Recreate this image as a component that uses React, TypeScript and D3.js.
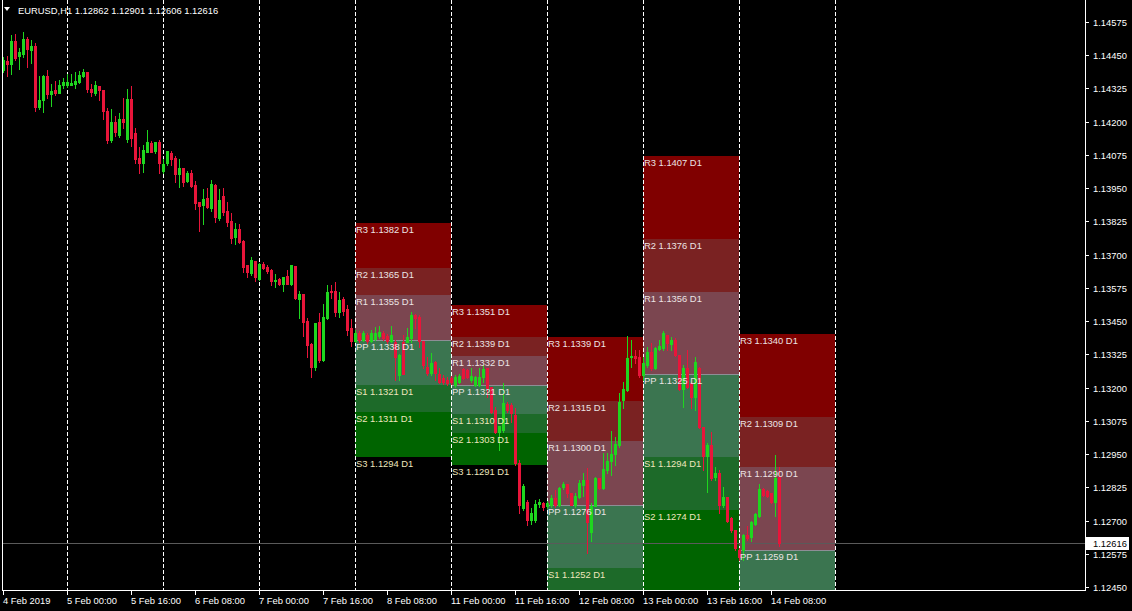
import React from "react";
import * as d3 from "d3";

const W = 1132;
const H = 611;

// OHLC hourly bars (index 0 = 4 Feb 2019 08:00)
const open = [
1.14394,1.14428,1.14417,1.14503,1.14447,1.14455,1.14511,1.14470,1.14485,1.14256,
1.14282,1.14371,1.14304,1.14319,1.14308,1.14338,1.14338,1.14338,1.14342,1.14349,
1.14371,1.14386,1.14323,1.14308,1.14334,1.14319,1.14240,1.14131,1.14198,1.14150,
1.14210,1.14135,1.14285,1.14158,1.14064,1.14045,1.14086,1.14120,1.14090,1.14124,
1.14015,1.14045,1.14083,1.14064,1.14003,1.14026,1.13977,1.14007,1.13962,1.13898,
1.13887,1.13913,1.13876,1.13962,1.13838,1.13921,1.13864,1.13827,1.13766,1.13796,
1.13751,1.13661,1.13631,1.13676,1.13608,1.13665,1.13654,1.13642,1.13601,1.13608,
1.13590,1.13620,1.13590,1.13657,1.13533,1.13552,1.13450,1.13364,1.13278,1.13447,
1.13304,1.13462,1.13563,1.13563,1.13484,1.13533,1.13495,1.13424,1.13375,1.13405,
1.13379,1.13398,1.13375,1.13383,1.13394,1.13405,1.13394,1.13375,1.13371,1.13247,
1.13371,1.13371,1.13386,1.13473,1.13466,1.13375,1.13278,1.13255,1.13296,1.13251,
1.13236,1.13229,1.13236,1.13210,1.13221,1.13270,1.13266,1.13229,1.13210,1.13210,
1.13240,1.13274,1.13202,1.13116,1.13033,1.13040,1.13138,1.13135,1.13097,1.12917,
1.12747,1.12770,1.12702,1.12702,1.12762,1.12766,1.12755,1.12758,1.12785,1.12758,
1.12826,1.12837,1.12803,1.12758,1.12788,1.12833,1.12852,1.12657,1.12755,1.12860,
1.12822,1.12890,1.12924,1.12950,1.12984,1.13153,1.13191,1.13315,1.13319,1.13315,
1.13247,1.13285,1.13334,1.13274,1.13345,1.13349,1.13398,1.13364,1.13379,1.13323,
1.13195,1.13274,1.13217,1.13165,1.13274,1.13052,1.12943,1.12984,1.12863,1.12879,
1.12758,1.12788,1.12709,1.12664,1.12589,1.12589,1.12645,1.12638,1.12687,1.12717,
1.12818,1.12811,1.12803,1.12770,1.12862,
];
const high = [
1.14444,1.14447,1.14526,1.14530,1.14477,1.14537,1.14519,1.14507,1.14496,1.14371,
1.14375,1.14394,1.14342,1.14353,1.14357,1.14364,1.14379,1.14379,1.14386,1.14390,
1.14398,1.14386,1.14342,1.14353,1.14334,1.14319,1.14251,1.14248,1.14221,1.14233,
1.14289,1.14323,1.14334,1.14176,1.14105,1.14113,1.14169,1.14128,1.14124,1.14131,
1.14060,1.14090,1.14090,1.14071,1.14060,1.14026,1.14015,1.14018,1.13977,1.13898,
1.13947,1.13951,1.13981,1.13966,1.13947,1.13951,1.13898,1.13857,1.13819,1.13815,
1.13755,1.13661,1.13691,1.13676,1.13668,1.13672,1.13661,1.13646,1.13627,1.13612,
1.13616,1.13642,1.13661,1.13657,1.13563,1.13552,1.13462,1.13368,1.13443,1.13480,
1.13514,1.13586,1.13586,1.13597,1.13559,1.13541,1.13510,1.13458,1.13417,1.13413,
1.13413,1.13405,1.13417,1.13428,1.13432,1.13413,1.13402,1.13432,1.13379,1.13326,
1.13398,1.13424,1.13484,1.13477,1.13473,1.13375,1.13315,1.13330,1.13300,1.13274,
1.13247,1.13240,1.13244,1.13247,1.13251,1.13274,1.13270,1.13274,1.13244,1.13274,
1.13285,1.13274,1.13202,1.13127,1.13055,1.13217,1.13146,1.13142,1.13123,1.12928,
1.12837,1.12777,1.12747,1.12777,1.12781,1.12770,1.12773,1.12796,1.12815,1.12826,
1.12845,1.12837,1.12803,1.12803,1.12852,1.12878,1.12897,1.12766,1.12863,1.12860,
1.12954,1.12954,1.13037,1.13014,1.13180,1.13221,1.13394,1.13379,1.13341,1.13341,
1.13315,1.13353,1.13368,1.13353,1.13379,1.13413,1.13398,1.13390,1.13386,1.13323,
1.13285,1.13341,1.13221,1.13315,1.13278,1.13052,1.12992,1.13033,1.12901,1.12890,
1.12826,1.12788,1.12713,1.12664,1.12596,1.12649,1.12679,1.12698,1.12728,1.12837,
1.12822,1.12815,1.12803,1.12946,1.12901,
];
const low = [
1.14386,1.14371,1.14379,1.14432,1.14398,1.14444,1.14406,1.14421,1.14240,1.14248,
1.14236,1.14289,1.14259,1.14300,1.14308,1.14327,1.14330,1.14338,1.14327,1.14345,
1.14368,1.14311,1.14296,1.14300,1.14282,1.14210,1.14120,1.14124,1.14146,1.14143,
1.14176,1.14124,1.14109,1.14045,1.14007,1.14011,1.14086,1.14086,1.14083,1.14007,
1.14007,1.14037,1.14037,1.13973,1.13954,1.13958,1.13973,1.13954,1.13872,1.13789,
1.13815,1.13876,1.13864,1.13823,1.13830,1.13849,1.13808,1.13744,1.13740,1.13744,
1.13635,1.13616,1.13623,1.13601,1.13605,1.13646,1.13631,1.13586,1.13578,1.13586,
1.13563,1.13590,1.13586,1.13533,1.13462,1.13394,1.13315,1.13240,1.13266,1.13296,
1.13300,1.13458,1.13537,1.13469,1.13466,1.13473,1.13398,1.13356,1.13371,1.13371,
1.13375,1.13368,1.13371,1.13379,1.13386,1.13379,1.13368,1.13371,1.13229,1.13229,
1.13251,1.13371,1.13371,1.13424,1.13353,1.13274,1.13247,1.13247,1.13229,1.13217,
1.13214,1.13210,1.13214,1.13202,1.13217,1.13232,1.13236,1.13221,1.13206,1.13206,
1.13221,1.13165,1.13104,1.13029,1.12965,1.13033,1.13108,1.13070,1.12909,1.12728,
1.12739,1.12683,1.12687,1.12694,1.12751,1.12739,1.12747,1.12751,1.12751,1.12755,
1.12818,1.12788,1.12758,1.12751,1.12785,1.12792,1.12578,1.12623,1.12755,1.12818,
1.12818,1.12879,1.12871,1.12909,1.12977,1.13123,1.13187,1.13278,1.13293,1.13240,
1.13229,1.13278,1.13266,1.13270,1.13341,1.13341,1.13341,1.13341,1.13319,1.13191,
1.13127,1.13199,1.13123,1.13116,1.13048,1.12890,1.12807,1.12852,1.12852,1.12728,
1.12751,1.12694,1.12657,1.12589,1.12551,1.12551,1.12627,1.12623,1.12683,1.12713,
1.12792,1.12788,1.12766,1.12717,1.12606,
];
const close = [
1.14432,1.14417,1.14503,1.14440,1.14462,1.14511,1.14473,1.14485,1.14256,1.14282,
1.14371,1.14304,1.14315,1.14308,1.14338,1.14349,1.14349,1.14345,1.14353,1.14375,
1.14386,1.14323,1.14311,1.14338,1.14319,1.14240,1.14131,1.14198,1.14161,1.14210,
1.14198,1.14285,1.14139,1.14060,1.14045,1.14094,1.14124,1.14086,1.14124,1.14045,
1.14041,1.14090,1.14060,1.14003,1.14026,1.13973,1.14007,1.13958,1.13895,1.13883,
1.13909,1.13880,1.13966,1.13842,1.13906,1.13861,1.13823,1.13763,1.13796,1.13747,
1.13654,1.13635,1.13680,1.13616,1.13665,1.13650,1.13638,1.13601,1.13605,1.13590,
1.13616,1.13590,1.13661,1.13537,1.13552,1.13447,1.13360,1.13278,1.13443,1.13304,
1.13466,1.13559,1.13559,1.13484,1.13529,1.13488,1.13417,1.13375,1.13405,1.13379,
1.13405,1.13375,1.13405,1.13405,1.13409,1.13386,1.13375,1.13398,1.13315,1.13323,
1.13251,1.13390,1.13473,1.13462,1.13375,1.13285,1.13255,1.13293,1.13255,1.13221,
1.13221,1.13217,1.13221,1.13240,1.13244,1.13236,1.13240,1.13244,1.13240,1.13240,
1.13270,1.13199,1.13108,1.13033,1.13055,1.13142,1.13116,1.13104,1.12917,1.12758,
1.12830,1.12702,1.12728,1.12762,1.12770,1.12751,1.12766,1.12785,1.12758,1.12822,
1.12837,1.12803,1.12758,1.12792,1.12841,1.12852,1.12694,1.12755,1.12860,1.12822,
1.12894,1.12924,1.12950,1.12988,1.13146,1.13195,1.13311,1.13319,1.13311,1.13247,
1.13293,1.13334,1.13274,1.13349,1.13356,1.13405,1.13368,1.13379,1.13323,1.13195,
1.13274,1.13202,1.13165,1.13296,1.13052,1.12943,1.12984,1.12860,1.12879,1.12758,
1.12788,1.12698,1.12664,1.12596,1.12563,1.12645,1.12634,1.12694,1.12724,1.12818,
1.12796,1.12792,1.12770,1.12860,1.12616,
];

// Time axis labels (bar index, text)
const timeLabelBars = [0, 16, 32, 48, 64, 80, 96, 112, 128, 144, 160, 176, 192];
const timeLabels = [
  "4 Feb 2019", "5 Feb 00:00", "5 Feb 16:00", "6 Feb 08:00", "7 Feb 00:00",
  "7 Feb 16:00", "8 Feb 08:00", "11 Feb 00:00", "11 Feb 16:00", "12 Feb 08:00",
  "13 Feb 00:00", "13 Feb 16:00", "14 Feb 08:00",
];
// Day separators (bar index of 00:00 each day)
const dayStartBars = [16, 40, 64, 88, 112, 136, 160, 184, 208];

// Price axis ticks
const priceTicks = [
  1.14575, 1.1445, 1.14325, 1.142, 1.14075, 1.1395, 1.13825, 1.137, 1.13575,
  1.1345, 1.13325, 1.132, 1.13075, 1.1295, 1.12825, 1.127, 1.12575, 1.1245,
];

// Daily pivot levels
const pivotStartBars = [88, 112, 136, 160, 184];
const pivotR3 = [1.1382, 1.1351, 1.1339, 1.1407, 1.134];
const pivotR2 = [1.1365, 1.1339, 1.1315, 1.1376, 1.1309];
const pivotR1 = [1.1355, 1.1332, 1.13, 1.1356, 1.129];
const pivotPP = [1.1338, 1.1321, 1.1276, 1.1325, 1.1259];
const pivotS1 = [1.1321, 1.131, 1.1252, 1.1294, 1.1228];
const pivotS2 = [1.1311, 1.1303, 1.1237, 1.1274, 1.1209];
const pivotS3 = [1.1294, 1.1291, 1.1213, 1.1243, 1.1178];

const symbolTitle = "EURUSD,H1";
const headerValues = ["1.12862", "1.12901", "1.12606", "1.12616"];
const lastPrice = 1.12616;

const FONT = "Tahoma, 'Liberation Sans', Arial, sans-serif";
const FS = 9.4;
const BULL = "#1fd61f";
const BEAR = "#e8153a";
const FG = "#ffffff";

const zoneColors = ["#800000", "#7a2222", "#7b4650", "#3b7550", "#1d6a29", "#006400"];
const rLabelColor = "#ece4e4";
const sLabelColor = "#efe6bd";

export default function App() {
  const left = 2, right = 1085, top = 0, bottom = 590;
  const x = d3.scaleLinear().domain([0, 1]).range([3.5, 7.5]);
  const y = d3.scaleLinear().domain([1.1245, 1.14575]).range([587, 22]);
  const ry = (p: number) => Math.round(y(p));

  const zones = pivotStartBars.map((s, d) => {
    const levels = [pivotR3[d], pivotR2[d], pivotR1[d], pivotPP[d], pivotS1[d], pivotS2[d], pivotS3[d]];
    const names = ["R3", "R2", "R1", "PP", "S1", "S2", "S3"];
    return { s, levels, names };
  });

  return (
    <svg width={W} height={H} style={{ display: "block", position: "absolute", left: 0, top: 0, background: "#000" }}
      fontFamily={FONT} fontSize={FS}>
      <defs>
        <clipPath id="plot"><rect x={left + 1} y={top} width={right - left - 1} height={bottom - top} /></clipPath>
      </defs>
      <rect x={0} y={0} width={W} height={H} fill="#000" />
      <g clipPath="url(#plot)" shapeRendering="crispEdges">
        {zones.map((z, d) => {
          const x0 = x(z.s) - 0.5;
          const x1 = x(z.s + 24) - 0.5;
          return (
            <g key={"z" + d}>
              {zoneColors.map((c, k) => {
                const ya = ry(z.levels[k]);
                const yb = Math.min(bottom, ry(z.levels[k + 1]));
                if (ya >= bottom) return null;
                return <rect key={k} x={x0} y={ya} width={x1 - x0} height={yb - ya} fill={c} />;
              })}
              <line x1={x0} x2={x1} y1={ry(z.levels[3]) + 0.5} y2={ry(z.levels[3]) + 0.5} stroke="#8e8e96" />
            </g>
          );
        })}
        {dayStartBars.map((b) => (
          <line key={"sep" + b} x1={x(b)} x2={x(b)} y1={0} y2={bottom} stroke={FG} strokeDasharray="4,2" />
        ))}
        <line x1={left} x2={right} y1={ry(lastPrice) + 0.5} y2={ry(lastPrice) + 0.5} stroke="#5a5a5a" />
        {open.map((o, i) => {
          const c = close[i];
          const col = c >= o ? BULL : BEAR;
          const cx = x(i);
          const yt = ry(Math.max(o, c));
          const yb = ry(Math.min(o, c));
          return (
            <g key={"c" + i}>
              <rect x={cx - 0.5} y={ry(high[i])} width={1} height={Math.max(1, ry(low[i]) - ry(high[i]) + 1)} fill={col} />
              <rect x={cx - 1.5} y={yt} width={3} height={Math.max(1, yb - yt + 1)} fill={col} />
            </g>
          );
        })}
      </g>
      {zones.map((z, d) => {
        const x0 = x(z.s) - 0.5;
        return z.names.map((n, k) => {
          const ty = ry(z.levels[k]) + 10;
          if (ty > bottom - 1) return null;
          return (
            <text key={"t" + d + n} x={x0 + 1} y={ty}
              fill={k >= 4 ? sLabelColor : rLabelColor}>{`${n} ${z.levels[k].toFixed(4)} D1`}</text>
          );
        });
      })}
      {/* frame */}
      <g shapeRendering="crispEdges" stroke={FG}>
        <line x1={left + 0.5} x2={left + 0.5} y1={0} y2={bottom + 1} />
        <line x1={left} x2={right + 1} y1={bottom + 0.5} y2={bottom + 0.5} />
        <line x1={right + 0.5} x2={right + 0.5} y1={0} y2={bottom + 1} />
        {priceTicks.map((p) => (
          <line key={"pt" + p} x1={right} x2={right + 4} y1={ry(p) + 0.5} y2={ry(p) + 0.5} />
        ))}
        {timeLabelBars.map((b) => (
          <line key={"tt" + b} x1={x(b)} x2={x(b)} y1={bottom} y2={bottom + 5} />
        ))}
      </g>
      {priceTicks.map((p) => (
        <text key={"pl" + p} x={1093} y={ry(p) + 3.5} fill={FG}>{p.toFixed(5)}</text>
      ))}
      <rect x={1086} y={ry(lastPrice) - 6} width={43} height={13} fill="#fff" />
      <text x={1093} y={ry(lastPrice) + 3.5} fill="#000">{lastPrice.toFixed(5)}</text>
      {timeLabels.map((t, k) => (
        <text key={"tl" + t} x={x(timeLabelBars[k]) - 0.5} y={604} fill={FG}>{t}</text>
      ))}
      <path d="M4,7 L10,7 L7,11 Z" fill={FG} />
      <text x={18} y={14} fill={FG}>{symbolTitle}{"  " + headerValues.join(" ")}</text>
    </svg>
  );
}
